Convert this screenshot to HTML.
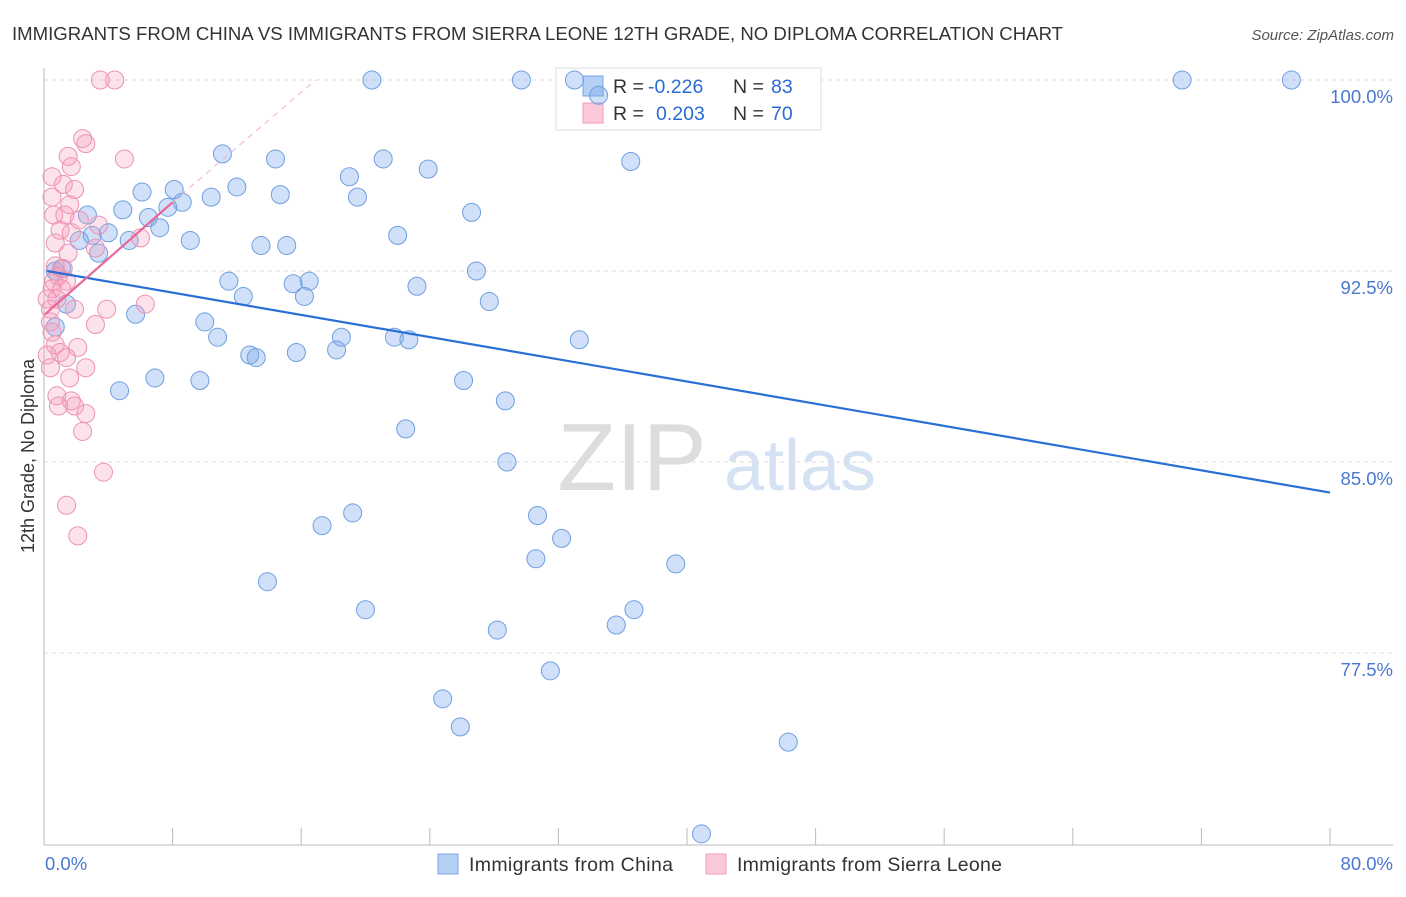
<!DOCTYPE html>
<html><head><meta charset="utf-8"><style>
body{margin:0;background:#fff;font-family:"Liberation Sans",sans-serif}
svg text{font-family:"Liberation Sans",sans-serif}
</style></head><body>
<svg id="chart" width="1406" height="892" xmlns="http://www.w3.org/2000/svg">
<text x="12" y="40" font-size="18.6" fill="#333">IMMIGRANTS FROM CHINA VS IMMIGRANTS FROM SIERRA LEONE 12TH GRADE, NO DIPLOMA CORRELATION CHART</text>
<text x="1394" y="40" font-size="15" fill="#555" text-anchor="end" font-style="italic">Source: ZipAtlas.com</text>
<g>
<text x="632" y="490" font-size="96" fill="#ddd" text-anchor="middle" font-family="Liberation Serif,serif">ZIP</text>
<text x="800" y="490" font-size="72" fill="#d5e2f3" text-anchor="middle">atlas</text>
</g>
<g id="grid"></g>
<g id="axes"></g>
<g>
<rect x="556" y="68" width="265" height="62" fill="#fff" stroke="#ddd"/>
<rect x="583" y="76" width="20" height="20" fill="#b5d0f5" stroke="#7aa6e6"/>
<rect x="583" y="103" width="20" height="20" fill="#fbc9d9" stroke="#f09ab8"/>
<text x="613" y="93" font-size="19.5" fill="#333">R = <tspan x="648" fill="#2a6bd4">-0.226</tspan><tspan x="733">N = </tspan><tspan x="771" fill="#2a6bd4">83</tspan></text>
<text x="613" y="120" font-size="19.5" fill="#333">R = <tspan x="656" fill="#2a6bd4">0.203</tspan><tspan x="733">N = </tspan><tspan x="771" fill="#2a6bd4">70</tspan></text>
</g>
<g id="points"></g>
<g id="trends"></g>
<text transform="translate(34,456) rotate(-90)" font-size="18" fill="#333" text-anchor="middle">12th Grade, No Diploma</text>
<text x="45" y="870" font-size="18.5" fill="#4a78d0">0.0%</text>
<text x="1393" y="870" font-size="18.5" fill="#4a78d0" text-anchor="end">80.0%</text>
<g>
<rect x="438" y="854" width="20" height="20" fill="#b5d0f5" stroke="#7aa6e6"/>
<text x="469" y="871" font-size="19.5" fill="#333" textLength="204">Immigrants from China</text>
<rect x="706" y="854" width="20" height="20" fill="#fbc9d9" stroke="#f09ab8"/>
<text x="737" y="871" font-size="19.5" fill="#333" textLength="265">Immigrants from Sierra Leone</text>
</g>
</svg>
<script>
const yTicks=[100,92.5,85,77.5];
const yTickLabels=["100.0%","92.5%","85.0%","77.5%"];
const xTicks=[0,8,16,24,32,40,48,56,64,72,80];
const chinaX=[20.4,29.7,33.0,70.8,77.6,34.5,11.1,14.4,21.1,36.5,19.0,23.9,6.1,8.1,12.0,10.4,14.7,19.5,8.6,7.7,4.9,2.7,6.5,26.6,7.2,4.0,3.0,2.2,5.3,9.1,22.0,13.5,15.1,3.4,26.9,11.5,15.5,16.5,23.2,12.4,16.2,27.7,1.4,5.7,10.0,0.7,18.5,10.8,21.8,22.7,33.3,12.8,13.2,15.7,18.2,6.9,9.7,26.1,4.7,28.7,22.5,28.8,17.3,19.2,30.7,32.2,30.6,39.3,13.9,20.0,36.7,35.6,28.2,31.5,24.8,25.9,46.3,40.9,0.7,1.1];
const chinaY=[100,100,100,100,100,99.4,97.1,96.9,96.9,96.8,96.2,96.5,95.6,95.7,95.8,95.4,95.5,95.4,95.2,95.0,94.9,94.7,94.6,94.8,94.2,94.0,93.9,93.7,93.7,93.7,93.9,93.5,93.5,93.2,92.5,92.1,92.0,92.1,91.9,91.5,91.5,91.3,91.2,90.8,90.5,90.3,89.9,89.9,89.9,89.8,89.8,89.2,89.1,89.3,89.4,88.3,88.2,88.2,87.8,87.4,86.3,85.0,82.5,83.0,82.9,82.0,81.2,81.0,80.3,79.2,79.2,78.6,78.4,76.8,75.7,74.6,74.0,70.4,92.5,92.6];
const sierraX=[3.5,4.4,2.4,2.6,5.0,1.5,1.7,0.5,1.2,1.9,0.5,1.6,0.6,1.3,2.2,3.4,1.0,1.7,6.0,0.7,1.5,3.2,0.7,1.2,0.9,1.4,0.5,0.2,0.8,1.9,3.9,6.3,0.4,3.2,0.5,0.7,1.0,2.1,0.2,1.4,0.4,2.6,1.6,0.8,1.7,1.9,2.6,0.9,2.4,3.7,1.4,2.1,0.4,0.6,1.1];
const sierraY=[100,100,97.7,97.5,96.9,97.0,96.6,96.2,95.9,95.7,95.4,95.1,94.7,94.7,94.5,94.3,94.1,94.0,93.8,93.6,93.2,93.4,92.7,92.6,92.3,92.1,91.8,91.4,91.4,91.0,91.0,91.2,90.5,90.4,90.1,89.6,89.3,89.5,89.2,89.1,88.7,88.7,88.3,87.6,87.4,87.2,86.9,87.2,86.2,84.6,83.3,82.1,91.0,92.1,91.8];
const chinaTrend=[0.2,92.5,80,83.8];
const sierraTrend=[0.06,90.8,8.0,95.2];
const sierraTrendExt=[8.0,95.2,16.9,100];

const X=v=>44+v/80*1286;
const Y=v=>80+(100-v)/7.5*191;
const NS="http://www.w3.org/2000/svg";
function mk(tag,parent,attrs){const e=document.createElementNS(NS,tag);for(const k in attrs)e.setAttribute(k,attrs[k]);document.getElementById(parent).appendChild(e);return e;}

yTicks.forEach((t,i)=>{
  const l=mk('line','grid',{x1:44,x2:1393,y1:Y(t),y2:Y(t),stroke:'#ddd','stroke-dasharray':'4,4'});
  
  
  const tx=mk('text','grid',{x:1393,y:Y(t)+23,'font-size':18.5,fill:'#4a78d0','text-anchor':'end'});
  tx.textContent=yTickLabels[i];
  
  
});
const ya=mk('line','axes',{x1:44,x2:44,y1:68,y2:845,stroke:'#bbb'});


const xa=mk('line','axes',{x1:44,x2:1393,y1:845,y2:845,stroke:'#bbb'});


xTicks.forEach(t=>{
  const l=mk('line','axes',{x1:X(t),x2:X(t),y1:828,y2:845,stroke:'#bbb'});
  
  
});
chinaX.forEach((x,i)=>{
  const c=mk('circle','points',{cx:X(x),cy:Y(chinaY[i]),r:9,fill:'rgba(120,165,235,0.35)',stroke:'#6f9fe0','stroke-width':1});
  
  
});
sierraX.forEach((x,i)=>{
  const c=mk('circle','points',{cx:X(x),cy:Y(sierraY[i]),r:9,fill:'rgba(245,160,190,0.3)',stroke:'#ec92b3','stroke-width':1});
  
  
});
const t1=mk('line','trends',{x1:X(chinaTrend[0]),y1:Y(chinaTrend[1]),x2:X(chinaTrend[2]),y2:Y(chinaTrend[3]),stroke:'#2a6fd6','stroke-width':2.2});


const t2=mk('line','trends',{x1:X(sierraTrend[0]),y1:Y(sierraTrend[1]),x2:X(sierraTrend[2]),y2:Y(sierraTrend[3]),stroke:'#e9679a','stroke-width':2.2});


const t3=mk('line','trends',{x1:X(sierraTrendExt[0]),y1:Y(sierraTrendExt[1]),x2:X(sierraTrendExt[2]),y2:Y(sierraTrendExt[3]),stroke:'#f0b0c8','stroke-width':1,'stroke-dasharray':'6,5'});


</script>
</body></html>
